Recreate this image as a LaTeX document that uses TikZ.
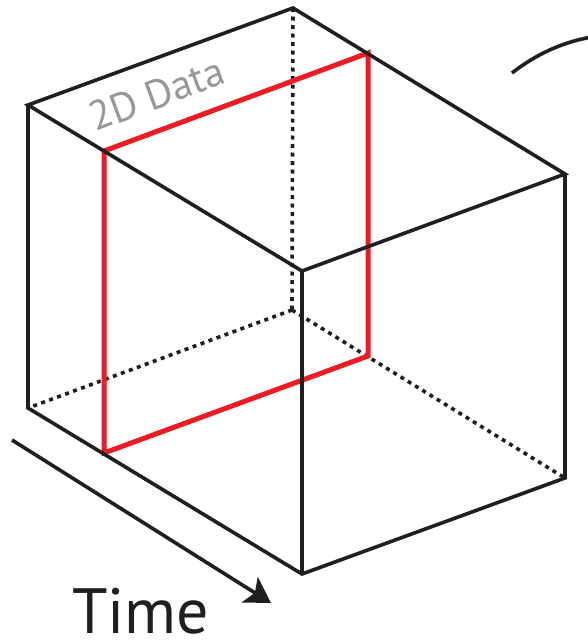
\documentclass[tikz,border=0pt]{standalone}
\usepackage{fontspec}
\setmainfont{PT Sans}
\usetikzlibrary{arrows.meta}
\definecolor{slicered}{RGB}{237,28,36}
\definecolor{labelgray}{RGB}{150,152,156}
\begin{document}
\begin{tikzpicture}[x=1pt,y=-1pt,
  edge/.style={line width=3.6pt,draw=black!88,line join=miter},
  hidden/.style={line width=3.6pt,draw=black!88,dash pattern=on 4pt off 4.5pt},
  slice/.style={line width=5pt,draw=slicered,line join=miter},
  timearrow/.style={line width=3.6pt,draw=black!88,-{Stealth[length=25pt,width=30pt,inset=6pt]}}]
\useasboundingbox (0,0) rectangle (587,643);
% cube vertices
\coordinate (B) at (293,8);
\coordinate (TL) at (28,105);
\coordinate (TF) at (302,271);
\coordinate (TR) at (565,174);
\coordinate (BL) at (28,408);
\coordinate (BF) at (302,574);
\coordinate (BR) at (565,478);
\coordinate (HB) at (292,310);
% hidden edges
\draw[hidden] (B) -- (HB);
\draw[hidden] (HB) -- (BL);
\draw[hidden] (HB) -- (BR);
% red slice
\coordinate (S1) at (104,151);
\coordinate (S2) at (368,53);
\coordinate (S3) at (368,356);
\coordinate (S4) at (104,453);
\draw[slice] (S1) -- (S2) -- (S3) -- (S4) -- cycle;
% visible edges
\draw[edge] (TL) -- (B) -- (TR) -- (TF) -- cycle;
\draw[edge] (TL) -- (BL) -- (BF) -- (BR) -- (TR);
\draw[edge] (TF) -- (BF);
% arc
\coordinate (A1) at (512,73);
\coordinate (A2) at (592,37);
\draw[edge] (A1) .. controls (535,55) and (562,42) .. (A2);
% time arrow
\coordinate (T1) at (12,440);
\coordinate (T2) at (271,603);
\draw[timearrow] (T1) -- (T2);
\node[font=\fontsize{64}{70}\selectfont,text=black!88,anchor=base west,inner sep=0pt,text depth=0pt] (time) at (72,633) {Time};
\node[font=\fontsize{41}{44}\selectfont,text=labelgray,anchor=base west,inner sep=0pt,text depth=0pt,rotate=20.3] (data) at (95,132) {2D Data};
\end{tikzpicture}
\end{document}
